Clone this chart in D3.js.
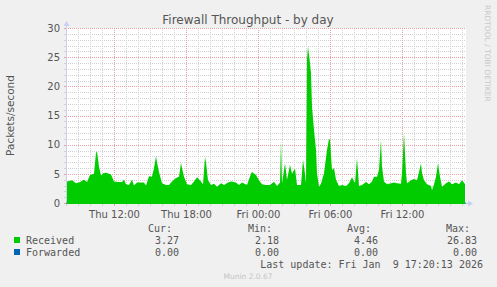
<!DOCTYPE html>
<html>
<head>
<meta charset="utf-8">
<script src="https://cdn.jsdelivr.net/npm/d3@7"></script>
<style>
  html, body { margin: 0; padding: 0; background: #f0f0f0; }
  svg { display: block; }
  text { fill: #555; font-family: "DejaVu Sans", sans-serif; }
  .mono { font-family: "DejaVu Sans Mono", monospace; font-size: 10px; }
</style>
</head>
<body>
<svg id="chart" width="497" height="287"></svg>
<script>
/*global d3 */

// sample times ("day hh:mm", Jan 2026) and received packets/s
var sampleTimes = [
    '08 08:05', '08 08:30', '08 08:50', '08 09:10', '08 09:30', '08 09:45', '08 10:00', '08 10:20',
    '08 10:30', '08 10:35', '08 10:45', '08 10:55', '08 11:05', '08 11:20', '08 11:35', '08 11:45',
    '08 12:00', '08 12:20', '08 12:40', '08 12:50', '08 13:00', '08 13:15', '08 13:30', '08 13:40',
    '08 13:55', '08 14:15', '08 14:30', '08 14:40', '08 14:55', '08 15:10', '08 15:20', '08 15:30',
    '08 15:35', '08 15:45', '08 16:00', '08 16:20', '08 16:35', '08 16:50', '08 17:10', '08 17:25',
    '08 17:35', '08 17:40', '08 17:50', '08 18:05', '08 18:25', '08 18:40', '08 18:55', '08 19:15',
    '08 19:25', '08 19:35', '08 19:40', '08 19:50', '08 20:05', '08 20:20', '08 20:35', '08 20:55',
    '08 21:10', '08 21:30', '08 21:45', '08 22:10', '08 22:25', '08 22:40', '08 23:05', '08 23:25',
    '08 23:30', '08 23:50', '09 00:05', '09 00:20', '09 00:40', '09 01:00', '09 01:20', '09 01:35',
    '09 01:50', '09 01:55', '09 02:00', '09 02:15', '09 02:25', '09 02:40', '09 02:50', '09 03:05',
    '09 03:15', '09 03:35', '09 03:45', '09 03:55', '09 04:00', '09 04:05', '09 04:10', '09 04:20',
    '09 04:25', '09 04:30', '09 04:40', '09 04:50', '09 04:55', '09 05:05', '09 05:15', '09 05:30',
    '09 05:45', '09 05:55', '09 06:00', '09 06:10', '09 06:20', '09 06:30', '09 06:45', '09 07:00',
    '09 07:20', '09 07:35', '09 07:50', '09 08:05', '09 08:15', '09 08:25', '09 08:40', '09 09:00',
    '09 09:15', '09 09:30', '09 09:40', '09 09:55', '09 10:05', '09 10:15', '09 10:20', '09 10:30',
    '09 10:45', '09 11:05', '09 11:20', '09 11:35', '09 11:55', '09 12:00', '09 12:10', '09 12:20',
    '09 12:25', '09 12:45', '09 13:00', '09 13:15', '09 13:25', '09 13:35', '09 13:40', '09 13:50',
    '09 14:05', '09 14:25', '09 14:30', '09 14:40', '09 14:50', '09 15:00', '09 15:10', '09 15:20',
    '09 15:40', '09 15:55', '09 16:10', '09 16:30', '09 16:45', '09 17:00', '09 17:15'
];
var received = [
    3.7, 3.9, 3.4, 3.6, 4.0, 3.6, 4.8, 5.0,
    8.6, 8.8, 6.2, 4.7, 5.1, 5.2, 5.0, 4.9,
    3.7, 3.6, 3.6, 4.0, 3.2, 3.1, 4.0, 3.0,
    3.5, 3.5, 3.5, 3.0, 4.6, 4.5, 6.0, 8.0,
    7.0, 5.3, 3.4, 3.1, 3.1, 3.7, 4.3, 4.5,
    6.9, 6.0, 4.5, 3.2, 3.1, 3.7, 4.4, 3.7,
    3.2, 7.9, 7.0, 3.9, 3.1, 3.3, 2.8, 3.4,
    3.1, 3.5, 3.7, 3.5, 3.1, 3.5, 3.1, 5.0,
    5.3, 4.8, 3.9, 3.2, 3.1, 3.1, 3.65, 2.9,
    3.5, 10.8, 3.3, 6.8, 4.0, 6.5, 5.0, 5.9,
    3.1, 3.1, 7.4, 5.0, 3.4, 24.5, 26.83, 24.0,
    22.2, 16.5, 12.5, 9.1, 5.1, 2.8, 3.3, 5.1,
    9.1, 11.0, 10.8, 5.6, 6.0, 4.0, 2.9, 3.1,
    2.9, 3.4, 4.4, 3.4, 7.7, 2.9, 3.1, 3.6,
    3.2, 3.7, 4.5, 4.5, 5.7, 10.8, 6.2, 3.7,
    3.2, 3.4, 3.5, 3.4, 3.3, 5.1, 12.0, 5.1,
    3.4, 3.9, 4.1, 3.9, 5.3, 6.8, 5.1, 3.9,
    3.2, 2.9, 2.18, 3.2, 4.5, 6.8, 4.5, 2.8,
    3.4, 3.7, 3.2, 3.5, 3.2, 3.9, 3.27
];
// forwarded stays at zero for the whole period
var forwardedTimes = ['08 08:00', '09 17:20'];
var forwarded = [0, 0];

var timeRange = ['08 08:00', '09 17:20'];
var yTicks = [0, 5, 10, 15, 20, 25, 30];

var legendNames = ['Received', 'Forwarded'];
var legendColors = ['#00cc00', '#0066b3'];
var statHeaders = ['Cur:', 'Min:', 'Avg:', 'Max:'];
var statValues = [
    ['3.27', '2.18', '4.46', '26.83'],
    ['0.00', '0.00', '0.00', '0.00']
];

(function () {
    var parse = d3.timeParse('%Y-%m-%d %H:%M');
    function toDate(s) { return parse('2026-01-' + s); }

    var svg = d3.select('#chart');
    var pLeft = 66, pRight = 466, pTop = 28, pBottom = 203;

    var x = d3.scaleTime()
        .domain(timeRange.map(toDate))
        .range([pLeft, pRight]);
    var y = d3.scaleLinear()
        .domain([0, 30])
        .range([pBottom, pTop]);

    svg.append('rect')
        .attr('x', pLeft).attr('y', pTop)
        .attr('width', pRight - pLeft).attr('height', pBottom - pTop)
        .attr('fill', '#fff');

    // grid
    var grid = svg.append('g').attr('shape-rendering', 'crispEdges');
    var hours = d3.timeHour.every(1).range(x.domain()[0], d3.timeMinute.offset(x.domain()[1], 1));
    var majorHours = hours.filter(function (d) { return d.getHours() % 6 === 0; });
    var minorY = d3.range(1, 31).filter(function (v) { return v % 5 !== 0; });
    function px(v) { return Math.round(v) + 0.5; }

    grid.selectAll('.hmin')
        .data(hours.filter(function (d) { return d.getHours() % 6 !== 0; }))
        .enter().append('line')
        .attr('x1', function (d) { return px(x(d)); })
        .attr('x2', function (d) { return px(x(d)); })
        .attr('y1', pTop).attr('y2', pBottom)
        .attr('stroke', '#d0d0d0')
        .attr('stroke-dasharray', '1,1');

    grid.selectAll('.ymin')
        .data(minorY)
        .enter().append('line')
        .attr('x1', pLeft).attr('x2', pRight)
        .attr('y1', function (d) { return px(y(d)); })
        .attr('y2', function (d) { return px(y(d)); })
        .attr('stroke', '#d0d0d0')
        .attr('stroke-dasharray', '1,1');

    grid.selectAll('.hmaj')
        .data(majorHours)
        .enter().append('line')
        .attr('x1', function (d) { return px(x(d)); })
        .attr('x2', function (d) { return px(x(d)); })
        .attr('y1', pTop).attr('y2', pBottom)
        .attr('stroke', '#e8a0a0')
        .attr('stroke-dasharray', '1,1');

    grid.selectAll('.ymaj')
        .data(yTicks.slice(1))
        .enter().append('line')
        .attr('x1', pLeft).attr('x2', pRight)
        .attr('y1', function (d) { return px(y(d)); })
        .attr('y2', function (d) { return px(y(d)); })
        .attr('stroke', '#e8a0a0')
        .attr('stroke-dasharray', '1,1');

    // axes (drawn under the data, the area covers the x axis line)
    var axisColor = '#c8d0f4';
    var axes = svg.append('g').attr('shape-rendering', 'crispEdges');
    axes.append('line')
        .attr('x1', pLeft + 0.5).attr('x2', pLeft + 0.5)
        .attr('y1', pBottom + 2).attr('y2', pTop - 4)
        .attr('stroke', axisColor);
    axes.append('line')
        .attr('x1', pLeft - 2).attr('x2', pRight + 4)
        .attr('y1', pBottom + 0.5).attr('y2', pBottom + 0.5)
        .attr('stroke', axisColor);
    svg.append('path')
        .attr('d', 'M' + (pLeft - 2.5) + ',' + (pTop - 2) + 'L' + (pLeft + 0.5) + ',' + (pTop - 7) +
            'L' + (pLeft + 3.5) + ',' + (pTop - 2) + 'Z')
        .attr('fill', axisColor);
    svg.append('path')
        .attr('d', 'M' + (pRight + 2) + ',' + (pBottom - 2.5) + 'L' + (pRight + 7) + ',' + (pBottom + 0.5) +
            'L' + (pRight + 2) + ',' + (pBottom + 3.5) + 'Z')
        .attr('fill', axisColor);

    // hourly ticks under the x axis, small ticks left of the y axis
    axes.selectAll('.xtick')
        .data(hours)
        .enter().append('line')
        .attr('x1', function (d) { return px(x(d)); })
        .attr('x2', function (d) { return px(x(d)); })
        .attr('y1', pBottom + 1).attr('y2', pBottom + 3)
        .attr('stroke', function (d) { return d.getHours() % 6 === 0 ? '#e8a0a0' : '#d0d0d0'; });
    axes.selectAll('.ytick')
        .data(d3.range(0, 31))
        .enter().append('line')
        .attr('x1', pLeft - 2).attr('x2', pLeft)
        .attr('y1', function (d) { return px(y(d)); })
        .attr('y2', function (d) { return px(y(d)); })
        .attr('stroke', function (d) { return d % 5 === 0 ? '#e8a0a0' : '#d0d0d0'; });

    // data
    var fwdData = forwardedTimes.map(function (t, i) { return { t: toDate(t), v: forwarded[i] }; });
    var recData = sampleTimes.map(function (t, i) { return { t: toDate(t), v: received[i] }; });

    svg.append('path')
        .datum(fwdData)
        .attr('fill', 'none')
        .attr('stroke', legendColors[1])
        .attr('d', d3.line().x(function (d) { return x(d.t); }).y(function (d) { return y(d.v); }));

    svg.append('path')
        .datum(recData)
        .attr('fill', legendColors[0])
        .attr('d', d3.area()
            .x(function (d) { return x(d.t); })
            .y0(y(0) + 1)
            .y1(function (d) { return y(d.v); }));

    var xAxis = d3.axisBottom(x)
        .tickValues(majorHours)
        .tickFormat(d3.timeFormat('%a %H:%M'))
        .tickSize(0)
        .tickPadding(8);
    var $xAxis = svg.append('g')
        .attr('transform', 'translate(0,' + pBottom + ')')
        .call(xAxis);
    $xAxis.select('.domain').remove();
    $xAxis.selectAll('text')
        .style('font-size', '10px')
        .style('font-family', 'DejaVu Sans, sans-serif')
        .attr('fill', '#555');

    var yAxis = d3.axisLeft(y)
        .tickValues(yTicks)
        .tickSize(0)
        .tickPadding(6);
    var $yAxis = svg.append('g')
        .attr('transform', 'translate(' + pLeft + ',0)')
        .call(yAxis);
    $yAxis.select('.domain').remove();
    $yAxis.selectAll('text')
        .style('font-size', '10px')
        .style('font-family', 'DejaVu Sans, sans-serif')
        .attr('fill', '#555');

    // titles
    svg.append('text')
        .attr('x', 248).attr('y', 24)
        .attr('text-anchor', 'middle')
        .style('font-size', '12px')
        .text('Firewall Throughput - by day');

    svg.append('text')
        .attr('transform', 'translate(14,' + ((pTop + pBottom) / 2) + ') rotate(-90)')
        .attr('text-anchor', 'middle')
        .style('font-size', '10.5px')
        .text('Packets/second');

    svg.append('text')
        .attr('transform', 'translate(485,5) rotate(90)')
        .style('font-size', '7.5px')
        .style('fill', '#c8c8c8')
        .text('RRDTOOL / TOBI OETIKER');

    // legend
    var statRight = [172, 272, 371, 470];
    var valueRight = [179, 279, 378, 477];
    var rowBase = [243.5, 255.5];

    svg.selectAll('.hdr')
        .data(statHeaders)
        .enter().append('text')
        .attr('class', 'mono')
        .attr('x', function (d, i) { return statRight[i]; })
        .attr('y', 231.5)
        .attr('text-anchor', 'end')
        .text(function (d) { return d; });

    legendNames.forEach(function (name, r) {
        svg.append('rect')
            .attr('x', 14).attr('y', rowBase[r] - 6.5)
            .attr('width', 6).attr('height', 6)
            .attr('fill', legendColors[r]);
        svg.append('text')
            .attr('class', 'mono')
            .attr('x', 26).attr('y', rowBase[r])
            .text(name);
        svg.selectAll('.val' + r)
            .data(statValues[r])
            .enter().append('text')
            .attr('class', 'mono')
            .attr('x', function (d, i) { return valueRight[i]; })
            .attr('y', rowBase[r])
            .attr('text-anchor', 'end')
            .text(function (d) { return d; });
    });

    svg.append('text')
        .attr('class', 'mono')
        .attr('x', 483).attr('y', 267.5)
        .attr('text-anchor', 'end')
        .style('white-space', 'pre')
        .text('Last update: Fri Jan  9 17:20:13 2026');

    svg.append('text')
        .attr('x', 248).attr('y', 279)
        .attr('text-anchor', 'middle')
        .style('font-size', '7.5px')
        .style('fill', '#c4c4c4')
        .text('Munin 2.0.67');
})();
</script>
</body>
</html>
